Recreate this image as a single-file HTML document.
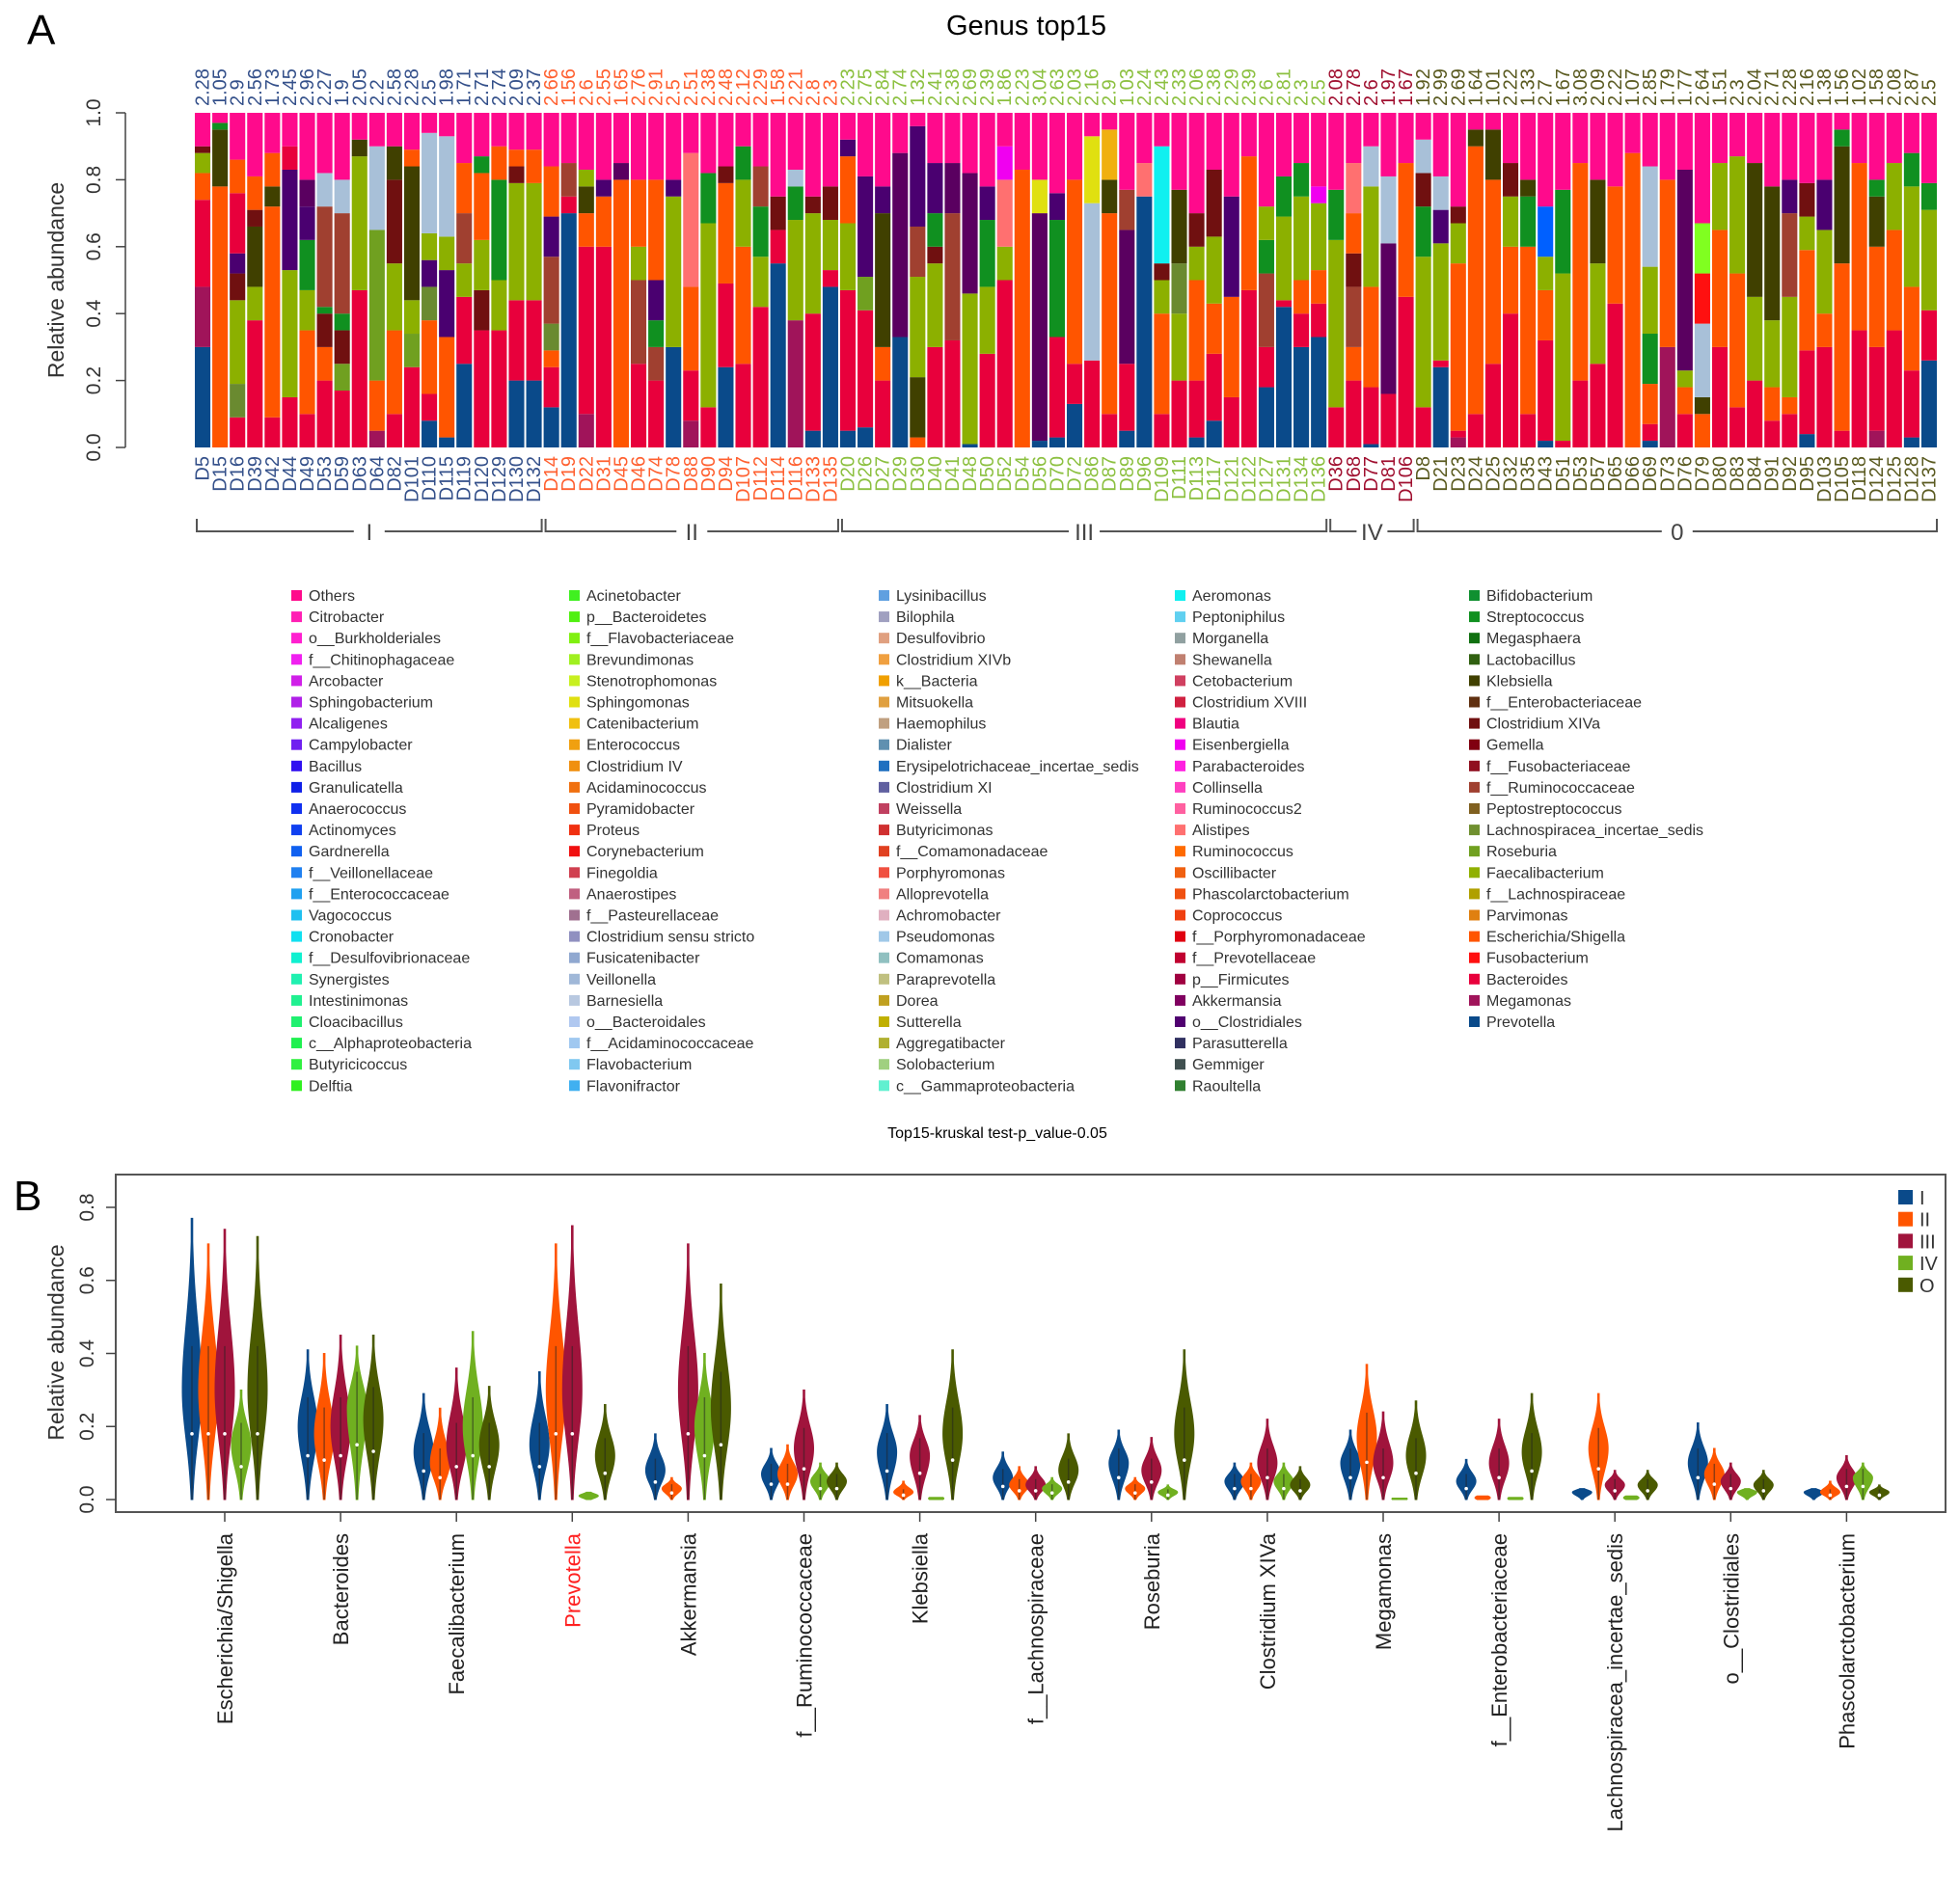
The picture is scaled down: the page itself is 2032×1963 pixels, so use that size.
<!DOCTYPE html>
<html><head><meta charset="utf-8">
<style>
html,body{margin:0;padding:0;background:#fff;}
svg{display:block;font-family:"Liberation Sans",Arial,sans-serif;}
</style></head>
<body>
<svg id="fig" width="2032" height="1963" viewBox="0 0 2032 1963" xmlns="http://www.w3.org/2000/svg">
<text x="28" y="46" font-size="44">A</text>
<text x="1064" y="36" font-size="29" text-anchor="middle">Genus top15</text>
<text x="1034" y="1180" font-size="16" text-anchor="middle">Top15-kruskal test-p_value-0.05</text>
<text x="14" y="1255" font-size="44">B</text>
<g id="gA"></g>
<g id="gL"></g>
<g id="gB"></g>
</svg>
<script>
// ---------- Panel A data ----------
const samples = ["D5","D15","D16","D39","D42","D44","D49","D53","D59","D63","D64","D82","D101","D110","D115","D119","D120","D129","D130","D132",
"D14","D19","D22","D31","D45","D46","D74","D78","D88","D90","D94","D107","D112","D114","D116","D133","D135",
"D20","D26","D27","D29","D30","D40","D41","D48","D50","D52","D54","D56","D70","D72","D86","D87","D89","D96","D109","D111","D113","D117","D121","D122","D127","D131","D134","D136",
"D36","D68","D77","D81","D106",
"D8","D21","D23","D24","D25","D32","D35","D43","D51","D53","D57","D65","D66","D69","D73","D76","D79","D80","D83","D84","D91","D92","D95","D103","D105","D118","D124","D125","D128","D137"];
const groupOf = [].concat(Array(20).fill("I"),Array(17).fill("II"),Array(28).fill("III"),Array(5).fill("IV"),Array(30).fill("0"));
const diversity = ["2.28","1.05","2.9","2.56","1.73","2.45","2.96","2.27","1.9","2.05","2.2","2.58","2.28","2.5","1.98","1.71","2.71","2.74","2.09","2.37",
"2.66","1.56","2.6","2.55","1.65","2.76","2.91","2.5","2.51","2.38","2.48","2.12","2.29","1.58","2.21","2.8","2.3",
"2.23","2.75","2.84","2.74","1.32","2.41","2.38","2.69","2.39","1.86","2.23","3.04","2.63","2.03","2.16","2.9","1.03","2.24","2.43","2.33","2.06","2.38","2.29","2.39","2.6","2.81","2.3","2.5",
"2.08","2.78","2.6","1.97","1.67",
"1.92","2.99","2.69","1.64","1.01","2.22","1.33","2.7","1.67","3.08","2.09","2.22","1.07","2.85","1.79","1.77","2.64","1.51","2.3","2.04","2.71","2.28","2.16","1.38","1.56","1.02","1.58","2.08","2.87","2.5"];
const stacks = [
"P:.30 M:.18 B:.26 E:.08 F:.06 X:.02","E:.78 K:.17 G:.02","B:.09 L:.1 F:.25 X:.08 C:.06 B:.18 E:.1","B:.38 F:.1 K:.18 X:.05 E:.1","B:.09 E:.63 K:.06 E:.1",
"B:.15 F:.38 C:.3 B:.07","B:.10 E:.25 F:.12 G:.15 C:.1 A:.08","B:.20 E:.1 X:.1 G:.02 U:.3 N:.1","B:.17 R:.08 X:.1 G:.05 U:.3 N:.1","B:.47 F:.4 K:.05",
"M:.05 E:.15 R:.45 N:.25","B:.1 E:.25 F:.2 X:.25 K:.1","B:.24 R:.1 F:.1 K:.4 E:.05","P:.08 B:.08 E:.22 L:.1 C:.08 F:.08 N:.3","P:.03 E:.3 C:.2 F:.1 N:.3",
"P:.25 B:.2 F:.1 U:.15 E:.15","B:.35 X:.12 F:.15 E:.2 G:.05","B:.35 F:.15 G:.3 E:.1","P:.2 B:.24 F:.35 X:.05 E:.05","P:.2 B:.24 F:.35 E:.1",
"P:.12 B:.12 E:.05 L:.08 U:.2 C:.12 E:.15","P:.7 B:.05 U:.1","M:.1 B:.5 E:.1 K:.08 F:.05","B:.6 E:.15 C:.05","E:.8 A:.05",
"B:.25 U:.25 F:.1 E:.2","B:.2 U:.1 G:.08 C:.12 E:.3","P:.3 F:.45 C:.05","M:.08 B:.15 E:.25 S:.4","B:.12 F:.55 G:.15",
"P:.24 B:.25 E:.3 X:.05","B:.25 E:.35 F:.2 G:.1","B:.42 F:.15 G:.15 U:.12","P:.55 B:.1 X:.1","M:.38 F:.3 G:.1 N:.05",
"P:.05 B:.35 F:.3 X:.05","P:.48 B:.05 F:.15 X:.1",
"P:.05 B:.42 F:.2 E:.2 C:.05","P:.06 B:.35 R:.1 C:.3","B:.2 E:.1 K:.4 C:.08","P:.33 A:.55","E:.03 K:.18 F:.3 U:.15 C:.3",
"B:.3 F:.25 X:.05 G:.1 C:.15","B:.32 U:.38 A:.15","P:.01 F:.45 A:.36","B:.28 F:.2 G:.2 C:.1","B:.5 F:.1 S:.2 Z:.1",
"E:.83","P:.02 A:.68 Y:.1","P:.03 B:.3 G:.35 C:.08","P:.13 B:.12 E:.55","B:.26 N:.47 Y:.2",
"B:.1 E:.6 K:.1 Q:.15","P:.05 B:.2 A:.4 U:.12","P:.75 S:.1","B:.1 E:.3 F:.1 X:.05 T:.35","B:.2 F:.2 L:.15 K:.22",
"P:.03 B:.17 E:.3 F:.1 X:.1","P:.08 B:.2 E:.15 F:.2 X:.2","B:.15 E:.3 C:.3","B:.47 E:.4","P:.18 B:.12 U:.22 G:.1 F:.1",
"P:.42 B:.02 F:.25 G:.12","P:.3 B:.1 E:.1 F:.25 G:.1","P:.33 B:.1 E:.1 F:.2 Z:.05",
"B:.12 F:.5 G:.15","B:.2 E:.1 U:.18 X:.1 E:.12 S:.15","P:.01 B:.17 E:.3 F:.3 N:.12","B:.16 A:.45 N:.2","B:.45 E:.4",
"B:.12 F:.45 G:.15 X:.1 N:.1","P:.24 B:.02 F:.35 C:.1 N:.1","M:.03 B:.02 E:.5 F:.12 X:.05","B:.1 E:.8 K:.05","B:.25 E:.55 K:.15",
"B:.4 E:.2 F:.15 X:.1","B:.1 E:.5 G:.15 K:.05","P:.02 B:.3 E:.15 F:.1 V:.15","B:.02 F:.5 G:.25","B:.2 E:.65",
"B:.25 F:.3 K:.25","B:.43 E:.35","E:.88","P:.02 B:.05 E:.12 G:.15 F:.2 N:.3","M:.3 E:.5",
"B:.1 E:.08 F:.05 A:.6","E:.1 K:.05 N:.22 H:.15 W:.15","B:.3 E:.35 F:.2","B:.12 E:.4 F:.35","B:.2 F:.25 K:.4",
"B:.08 E:.1 F:.2 K:.4","B:.1 E:.05 F:.3 U:.25 C:.1","P:.04 B:.25 E:.3 F:.1 X:.1","B:.3 E:.1 F:.25 C:.15","B:.05 E:.5 K:.35 G:.05",
"B:.35 E:.5","M:.05 B:.25 E:.3 K:.15 G:.05","B:.35 E:.3 F:.2","P:.03 B:.2 E:.25 F:.3 G:.1","P:.26 B:.15 F:.3 G:.08"];
const codeColors = {P:"#0a4a8a",B:"#e8003c",M:"#a0145a",E:"#ff5500",F:"#8cb000",R:"#70a020",L:"#6a8a30",K:"#404000",A:"#5a0060",C:"#4a0070",G:"#109020",X:"#701010",U:"#a04030",N:"#a8c0d8",S:"#ff7070",Z:"#f000f0",Y:"#e0e010",Q:"#f0b010",V:"#0060ff",H:"#ff1010",W:"#80ff20",T:"#10f0f0",O:"#ff0a8c"};
const groupNames = ["I","II","III","IV","0"];
const groupColorsA = {"I":"#34508a","II":"#ff6030","III":"#8cc040","IV":"#a01030","0":"#5a5a20"};
const yTicksA = [0,0.2,0.4,0.6,0.8,1.0];

// ---------- Legend data ----------
const legendCols = [
["Others","Citrobacter","o__Burkholderiales","f__Chitinophagaceae","Arcobacter","Sphingobacterium","Alcaligenes","Campylobacter","Bacillus","Granulicatella","Anaerococcus","Actinomyces","Gardnerella","f__Veillonellaceae","f__Enterococcaceae","Vagococcus","Cronobacter","f__Desulfovibrionaceae","Synergistes","Intestinimonas","Cloacibacillus","c__Alphaproteobacteria","Butyricicoccus","Delftia"],
["Acinetobacter","p__Bacteroidetes","f__Flavobacteriaceae","Brevundimonas","Stenotrophomonas","Sphingomonas","Catenibacterium","Enterococcus","Clostridium IV","Acidaminococcus","Pyramidobacter","Proteus","Corynebacterium","Finegoldia","Anaerostipes","f__Pasteurellaceae","Clostridium sensu stricto","Fusicatenibacter","Veillonella","Barnesiella","o__Bacteroidales","f__Acidaminococcaceae","Flavobacterium","Flavonifractor"],
["Lysinibacillus","Bilophila","Desulfovibrio","Clostridium XIVb","k__Bacteria","Mitsuokella","Haemophilus","Dialister","Erysipelotrichaceae_incertae_sedis","Clostridium XI","Weissella","Butyricimonas","f__Comamonadaceae","Porphyromonas","Alloprevotella","Achromobacter","Pseudomonas","Comamonas","Paraprevotella","Dorea","Sutterella","Aggregatibacter","Solobacterium","c__Gammaproteobacteria"],
["Aeromonas","Peptoniphilus","Morganella","Shewanella","Cetobacterium","Clostridium XVIII","Blautia","Eisenbergiella","Parabacteroides","Collinsella","Ruminococcus2","Alistipes","Ruminococcus","Oscillibacter","Phascolarctobacterium","Coprococcus","f__Porphyromonadaceae","f__Prevotellaceae","p__Firmicutes","Akkermansia","o__Clostridiales","Parasutterella","Gemmiger","Raoultella"],
["Bifidobacterium","Streptococcus","Megasphaera","Lactobacillus","Klebsiella","f__Enterobacteriaceae","Clostridium XIVa","Gemella","f__Fusobacteriaceae","f__Ruminococcaceae","Peptostreptococcus","Lachnospiracea_incertae_sedis","Roseburia","Faecalibacterium","f__Lachnospiraceae","Parvimonas","Escherichia/Shigella","Fusobacterium","Bacteroides","Megamonas","Prevotella"]];
const legendColors = [
["#ff0a8c","#ff1fb4","#ff20d0","#f020f0","#d020e8","#b020e8","#9020f0","#7020f0","#3010f0","#1020e8","#1030f0","#1040f0","#1060f0","#2080f0","#20a0f0","#20c0f0","#10e0f0","#10f0d0","#20f0b0","#20f090","#20f070","#20f050","#30f040","#30f020"],
["#40f020","#50f010","#80f010","#a0f020","#c8f020","#e0e010","#f0c010","#f0a010","#f09010","#f07010","#f05010","#f03010","#f01010","#d04050","#c06080","#a07090","#9090c0","#90a8d0","#a0b8d8","#b8c8e0","#b0c8f0","#a0c8f0","#80c8f0","#40b0f0"],
["#60a0e0","#a0a0c0","#e0a080","#f0a040","#f0a000","#e0a040","#c0a080","#6090b0","#2070c0","#6060a0","#c04060","#d03030","#e04020","#f05040","#f08080","#e0b0c0","#a0c8e8","#90c0c0","#c0c080","#c0a020","#c0b000","#b0b030","#a0d080","#60f0d0"],
["#10f0f0","#60d0f0","#90a0a0","#c08070","#d04060","#d02040","#f00080","#f000f0","#ff20e0","#ff40c0","#ff60a0","#ff7070","#ff6a00","#f06010","#f05010","#f04010","#e00010","#c00030","#a00040","#800060","#500070","#303060","#405050","#308030"],
["#109030","#109020","#107010","#306010","#404000","#603010","#701010","#800010","#901020","#a04030","#806020","#709030","#70a020","#90b000","#b0a000","#e08010","#ff5500","#ff1010","#e8003c","#a0145a","#0a4a8a"]];

// ---------- Panel B data ----------
const genera = ["Escherichia/Shigella","Bacteroides","Faecalibacterium","Prevotella","Akkermansia","f__Ruminococcaceae","Klebsiella","f__Lachnospiraceae","Roseburia","Clostridium XIVa","Megamonas","f__Enterobacteriaceae","Lachnospiracea_incertae_sedis","o__Clostridiales","Phascolarctobacterium"];
const groupsB = ["I","II","III","IV","O"];
const groupColorsB = ["#0a4a8a","#ff5500","#a0143c","#70b020","#4a5a00"];
const peakI   = [.30,.20,.13,.15,.08,.07,.13,.06,.10,.05,.10,.05,.02,.10,.02];
const peakII  = [.30,.18,.10,.30,.03,.07,.02,.04,.03,.05,.17,.005,.14,.07,.02];
const peakIII = [.30,.20,.15,.30,.30,.14,.12,.04,.08,.10,.10,.10,.04,.05,.06];
const peakIV  = [.15,.25,.20,.01,.20,.05,.003,.03,.02,.05,.002,.003,.005,.02,.06];
const peakO   = [.30,.22,.15,.12,.25,.05,.18,.08,.18,.04,.12,.13,.04,.04,.02];
const maxI   = [.77,.41,.29,.35,.18,.14,.26,.13,.19,.10,.19,.11,.03,.21,.03];
const maxII  = [.70,.40,.25,.70,.06,.15,.05,.09,.06,.10,.37,.01,.29,.14,.05];
const maxIII = [.74,.45,.36,.75,.70,.30,.23,.09,.17,.22,.24,.22,.08,.10,.12];
const maxIV  = [.30,.42,.46,.02,.40,.10,.006,.06,.04,.10,.004,.006,.01,.03,.10];
const maxO   = [.72,.45,.31,.26,.59,.10,.41,.18,.41,.09,.27,.29,.08,.08,.04];
const yTicksB = [0,0.2,0.4,0.6,0.8];

const NS="http://www.w3.org/2000/svg";
function mk(tag,attrs,parent,text){const e=document.createElementNS(NS,tag);for(const k in attrs)e.setAttribute(k,attrs[k]);if(text!==undefined)e.textContent=text;parent.appendChild(e);return e;}

// ---------- Draw Panel A ----------
(function(){
const g=document.getElementById("gA");
const x0=201,x1=2009,yTop=117,yBot=464;
const pitch=(x1-x0)/samples.length, bw=pitch-2;
const yScale=v=>yBot-v*(yBot-yTop);
const xScale=i=>x0+i*pitch+1;
const ax=mk("line",{x1:130,x2:130,y1:yScale(0),y2:yScale(1),stroke:"#444","stroke-width":1.5},g);


yTicksA.forEach(t=>{
  const y=yScale(t);
  const tk=mk("line",{x1:120,x2:130,y1:y,y2:y,stroke:"#444","stroke-width":1.5},g);
  
  
  const tl=mk("text",{x:0,y:0,"font-size":21,fill:"#333","text-anchor":"middle",transform:`translate(104,${y}) rotate(-90)`},g,t.toFixed(1));
  
  
});
const yt=mk("text",{x:0,y:0,"font-size":23,fill:"#333","text-anchor":"middle",transform:`translate(66,${(yTop+yBot)/2}) rotate(-90)`},g,"Relative abundance");


samples.forEach((s,i)=>{
  const bx=xScale(i);
  let acc=0;
  const bar=mk("g",{},g);
  
  
  stacks[i].split(" ").forEach(seg=>{
    const [c,v]=seg.split(":");const f=parseFloat(v);
    const r=mk("rect",{x:bx,y:yScale(acc+f),width:bw,height:yScale(acc)-yScale(acc+f),fill:codeColors[c]},bar);
    
    
    acc+=f;
  });
  if(acc<1){
    const r=mk("rect",{x:bx,y:yScale(1),width:bw,height:yScale(acc)-yScale(1),fill:codeColors.O},bar);
    
    
  }
  const col=groupColorsA[groupOf[i]];
  const cx=bx+bw/2+6.5;
  const nt=mk("text",{x:0,y:0,"font-size":20,fill:col,transform:`translate(${cx},110) rotate(-90)`},g,diversity[i]);
  
  
  const st=mk("text",{x:0,y:0,"font-size":20,fill:col,"text-anchor":"end",transform:`translate(${cx},473) rotate(-90)`},g,s);
  
  
});
groupNames.forEach(gn=>{
  const first=groupOf.indexOf(gn), last=groupOf.lastIndexOf(gn);
  const a=x0+first*pitch+3, b=x0+(last+1)*pitch-1, m=(a+b)/2, y=551;
  const br=mk("g",{},g);
  
  
  const gap=16;
  mk("path",{d:`M${a},538 L${a},${y} L${m-gap},${y} M${m+gap},${y} L${b},${y} L${b},538`,stroke:"#555","stroke-width":2,fill:"none"},br);
  mk("text",{x:m,y:y+9,"font-size":24,fill:"#444","text-anchor":"middle"},br,gn);
});
})();

// ---------- Legend ----------
(function(){
const g=document.getElementById("gL");
const colX=[302,590,911,1218,1523];
legendCols.forEach((col,ci)=>{
  col.forEach((name,ri)=>{
    const y=618+ri*22.1;
    const e=mk("g",{},g);
    
    
    mk("rect",{x:colX[ci],y:y-6,width:11,height:11,fill:legendColors[ci][ri]},e);
    mk("text",{x:colX[ci]+18,y:y+5,"font-size":16,fill:"#333"},e,name);
  });
});
})();

// ---------- Panel B ----------
(function(){
const g=document.getElementById("gB");
const L=120,R=2017,T=1218,B=1568;
const y0=1555, perUnit=(1555-1252)/0.8;
const yScale=v=>y0-v*perUnit;
const catX=i=>233+i*120.1;
const off=[-34,-17,0,17,34];
const frame=mk("rect",{x:L,y:T,width:R-L,height:B-T,fill:"none",stroke:"#555","stroke-width":2},g);


yTicksB.forEach(t=>{
  const y=yScale(t);
  const tk=mk("line",{x1:110,x2:120,y1:y,y2:y,stroke:"#444","stroke-width":1.5},g);
  
  
  const tl=mk("text",{x:0,y:0,"font-size":21,fill:"#333","text-anchor":"middle",transform:`translate(97,${y}) rotate(-90)`},g,t.toFixed(1));
  
  
});
const yt=mk("text",{x:0,y:0,"font-size":23,fill:"#333","text-anchor":"middle",transform:`translate(66,1392) rotate(-90)`},g,"Relative abundance");


const peaks=[peakI,peakII,peakIII,peakIV,peakO];
const maxs=[maxI,maxII,maxIII,maxIV,maxO];
genera.forEach((gname,i)=>{
  const cx=catX(i);
  const tk=mk("line",{x1:cx,x2:cx,y1:B,y2:B+10,stroke:"#444","stroke-width":1.5},g);
  
  
  const lab=mk("text",{x:0,y:0,"font-size":22,fill:gname==="Prevotella"?"#ff2020":"#222","text-anchor":"end",transform:`translate(${cx+8},1590) rotate(-90)`},g,gname);
  
  
  groupsB.forEach((gr,j)=>{
    const pk=peaks[j][i], mx=maxs[j][i];
    const vx=cx+off[j];
    const W=mx<0.02?8:10;
    const sl=Math.max(pk/2.2,0.006), su=Math.max((mx-pk)/2.6,0.006);
    const pts=[];
    const N=60;
    for(let k=0;k<=N;k++){
      const v=mx*k/N;
      const s=v<pk?sl:su;
      let w=W*Math.exp(-0.5*((v-pk)/s)**2);
      w=Math.max(w,0.8);
      pts.push([v,w]);
    }
    let d=`M${vx},${yScale(0)}`;
    pts.forEach(p=>{d+=` L${(vx+p[1]).toFixed(2)},${yScale(p[0]).toFixed(2)}`;});
    for(let k=pts.length-1;k>=0;k--){d+=` L${(vx-pts[k][1]).toFixed(2)},${yScale(pts[k][0]).toFixed(2)}`;}
    d+="Z";
    const v=mk("path",{d:d,fill:groupColorsB[j],stroke:groupColorsB[j],"stroke-width":1},g);
    
    
    if(mx>0.03){
      const ln=mk("line",{x1:vx,x2:vx,y1:yScale(0),y2:yScale(pk*1.4),stroke:"#222","stroke-width":1.5,opacity:0.5},g);
      
      
      const dot=mk("circle",{cx:vx,cy:yScale(pk*0.6),r:1.8,fill:"#fff"},g);
      
      
    }
  });
});
groupsB.forEach((gr,j)=>{
  const y=1242+j*22.7;
  const e=mk("g",{},g);
  
  
  mk("rect",{x:1968,y:y-8,width:15,height:15,fill:groupColorsB[j]},e);
  mk("text",{x:1990,y:y+7,"font-size":20,fill:"#333"},e,gr);
});
})();
</script>
</body></html>
